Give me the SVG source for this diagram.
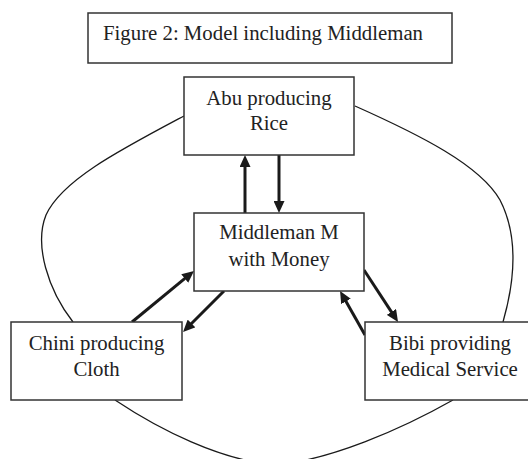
<svg xmlns="http://www.w3.org/2000/svg" width="528" height="459" viewBox="0 0 528 459">
<style>
.box{fill:#fff;stroke:#333;stroke-width:1.5}
.t{font-family:"Liberation Serif","Times New Roman",serif;font-size:20.8px;fill:#222;text-anchor:middle}
.curve{fill:none;stroke:#1a1a1a;stroke-width:1.3}
.arr{fill:none;stroke:#1a1a1a;stroke-width:3;marker-end:url(#ah)}
</style>
<defs>
<marker id="ah" markerUnits="userSpaceOnUse" markerWidth="12" markerHeight="11" viewBox="0 0 12 11" refX="5" refY="5.5" orient="auto">
<path d="M0,0 L12,5.5 L0,11 z" fill="#1a1a1a"/>
</marker>
</defs>
<rect width="528" height="459" fill="#fff"/>
<g id="connectors">
<path class="curve" d="M184,116 C120,150 62,180 46,215 C34,245 48,290 73,322"/>
<path class="curve" d="M355,106 C420,135 480,165 500,200 C518,235 515,280 503,322"/>
<path class="curve" d="M115,400 C160,430 220,460 275,465 C330,460 400,430 453,400"/>
<path class="arr" d="M245,213 L245,162"/>
<path class="arr" d="M279,155 L279,206"/>
<path class="arr" d="M132,322 L188.6,275.4"/>
<path class="arr" d="M224,291 L188,327"/>
<path class="arr" d="M364,270 L394.2,316.1"/>
<path class="arr" d="M365,335 L343.5,297.1"/>
</g>
<g id="title">
<rect class="box" x="88" y="13" width="364" height="50"/>
<text class="t" x="103" y="40" style="text-anchor:start">Figure 2: Model including Middleman</text>
</g>
<g id="abu">
<rect class="box" x="184" y="77" width="170" height="78"/>
<text class="t" x="269" y="104.5">Abu producing</text>
<text class="t" x="269" y="130">Rice</text>
</g>
<g id="middleman">
<rect class="box" x="194" y="213" width="170" height="78"/>
<text class="t" x="279" y="239">Middleman M</text>
<text class="t" x="279" y="266">with Money</text>
</g>
<g id="chini">
<rect class="box" x="11" y="322" width="171" height="78"/>
<text class="t" x="96.5" y="350">Chini producing</text>
<text class="t" x="96.5" y="376">Cloth</text>
</g>
<g id="bibi">
<rect class="box" x="365" y="322" width="170" height="78"/>
<text class="t" x="450" y="350">Bibi providing</text>
<text class="t" x="450" y="376">Medical Service</text>
</g>
</svg>
